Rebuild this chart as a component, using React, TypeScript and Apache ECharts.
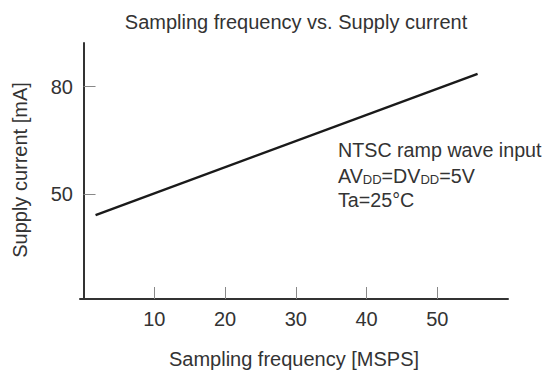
import React, { useEffect, useRef } from "react";
import * as echarts from "echarts";

const titleText = "Sampling frequency vs. Supply current";
const xAxisName = "Sampling frequency [MSPS]";
const yAxisName = "Supply current [mA]";
const xTicks = [10, 20, 30, 40, 50];
const yTicks = [50, 80];
const freqMSPS = [1.7, 55.7];
const currentMA = [44.2, 83.6];
const noteLines = ["NTSC ramp wave input", "AVDD=DVDD=5V", "Ta=25°C"];

const FONT = "'Liberation Sans', Arial, Helvetica, sans-serif";
const TXT = "#333";
const FS = 20;

export default function App() {
  const ref = useRef<HTMLDivElement>(null);
  useEffect(() => {
    if (!ref.current) return;
    const chart = echarts.init(ref.current, undefined, { renderer: "svg" });
    const data = freqMSPS.map((x, i) => [x, currentMA[i]]);
    chart.setOption({
      animation: false,
      backgroundColor: "#fff",
      textStyle: { fontFamily: FONT },
      grid: { left: 80, right: 38, top: 43, bottom: 76, containLabel: false },
      xAxis: {
        type: "value",
        min: -0.5,
        max: 60,
        splitLine: { show: false },
        axisLine: { show: true, lineStyle: { color: "#333", width: 2 } },
        axisTick: {
          show: true,
          inside: true,
          length: 12,
          customValues: xTicks,
          lineStyle: { color: "#888", width: 1 },
        },
        axisLabel: {
          customValues: xTicks,
          margin: 10,
          fontSize: FS,
          color: TXT,
          fontFamily: FONT,
        },
      },
      yAxis: {
        type: "value",
        min: 20.8,
        max: 92.2,
        splitLine: { show: false },
        axisLine: { show: true, lineStyle: { color: "#333", width: 2 } },
        axisTick: {
          show: true,
          inside: true,
          length: 12,
          customValues: yTicks,
          lineStyle: { color: "#888", width: 1 },
        },
        axisLabel: {
          customValues: yTicks,
          margin: 7,
          fontSize: FS,
          color: TXT,
          fontFamily: FONT,
        },
      },
      series: [
        {
          type: "line",
          data,
          symbol: "none",
          lineStyle: { color: "#1a1a1a", width: 2.5 },
        },
      ],
      graphic: [
        {
          type: "text",
          x: 296,
          y: 21.5,
          style: {
            text: titleText,
            fontSize: FS,
            fontFamily: FONT,
            fill: TXT,
            align: "center",
            verticalAlign: "middle",
          },
        },
        {
          type: "text",
          x: 294,
          y: 359,
          style: {
            text: xAxisName,
            fontSize: FS,
            fontFamily: FONT,
            fill: TXT,
            align: "center",
            verticalAlign: "middle",
          },
        },
        {
          type: "text",
          x: 20,
          y: 170,
          rotation: Math.PI / 2,
          style: {
            text: yAxisName,
            fontSize: FS,
            fontFamily: FONT,
            fill: TXT,
            align: "center",
            verticalAlign: "middle",
          },
        },
        {
          type: "text",
          x: 338,
          y: 150,
          style: {
            text: noteLines[0],
            fontSize: 19.7,
            fontFamily: FONT,
            fill: TXT,
            align: "left",
            verticalAlign: "middle",
          },
        },
        {
          type: "text",
          x: 338,
          y: 175.5,
          style: {
            text: "{a|AV}{s|DD}{a|=DV}{s|DD}{a|=5V}",
            fontFamily: FONT,
            fill: TXT,
            align: "left",
            verticalAlign: "middle",
            rich: {
              a: { fontSize: 19.7, lineHeight: 20, fontFamily: FONT, fill: TXT, verticalAlign: "bottom" },
              s: { fontSize: 13, lineHeight: 15.5, fontFamily: FONT, fill: TXT, verticalAlign: "bottom" },
            },
          },
        },
        {
          type: "text",
          x: 338,
          y: 199.5,
          style: {
            text: noteLines[2],
            fontSize: 19.7,
            fontFamily: FONT,
            fill: TXT,
            align: "left",
            verticalAlign: "middle",
          },
        },
      ],
    });
    return () => chart.dispose();
  }, []);
  return (
    <div
      ref={ref}
      style={{ position: "fixed", left: 0, top: 0, width: 546, height: 375 }}
    />
  );
}
